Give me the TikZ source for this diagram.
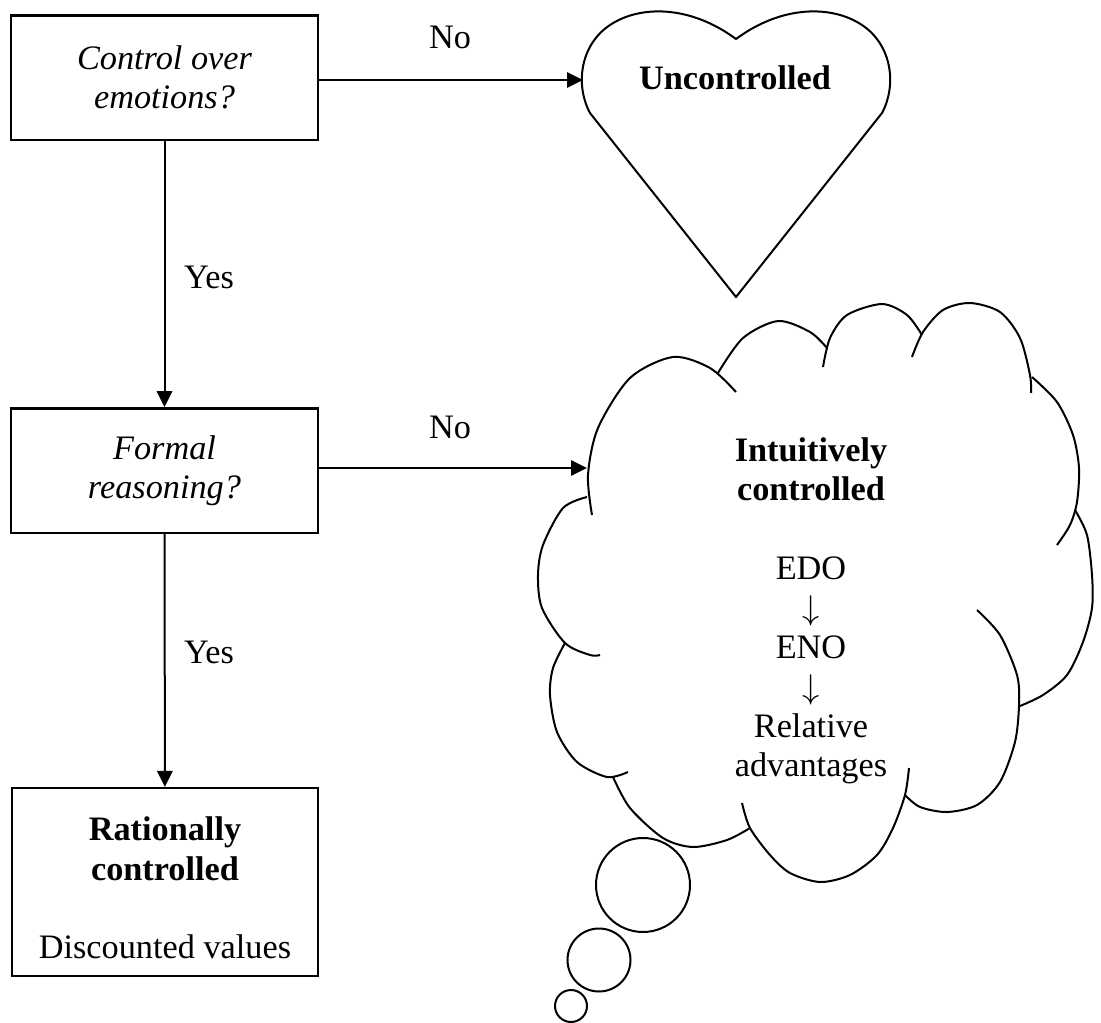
\documentclass[tikz,border=0pt]{standalone}
\usepackage{fontspec}
\setmainfont{Liberation Serif}
\usetikzlibrary{arrows.meta}

\begin{document}
\begin{tikzpicture}[x=0.35pt, y=-0.35pt,
  question/.style={draw, line width=0.8pt, minimum width=107.5pt, minimum height=43.5pt, align=center, inner sep=0pt, font=\fontsize{12}{13.8}\selectfont\itshape},
  result/.style={draw, line width=0.8pt, minimum width=107.3pt, minimum height=65.8pt, inner sep=0pt},
  txt/.style={align=center, inner sep=0pt, font=\fontsize{12}{13.8}\selectfont},
  bold/.style={txt, font=\fontsize{12}{13.8}\selectfont\bfseries},
  edge/.style={line width=0.7pt},
  arr/.style={line width=0.7pt, -{Triangle[length=5.6pt, width=5.4pt]}}]
\useasboundingbox (0,0) rectangle (1101,1023);
% decision boxes
\node[question] (emo) at (164.5,77.5) {Control over\\emotions?};
\node[question] (form) at (164.5,470.5) {Formal\\reasoning?};
\node[result] (rat) at (165,882) {};
\node[txt] (ratlbl) at (165,888) {\textbf{Rationally}\\\textbf{controlled}\\[13.8pt]Discounted values};
% heart
\draw[edge, line join=round] (736,297) -- (590,113) .. controls (575,85) and (580,45) .. (610,25)
  .. controls (640,5) and (690,5) .. (736,39) .. controls (782,5) and (832,5) .. (862,25)
  .. controls (892,45) and (897,85) .. (882,113) -- cycle;
\coordinate (heart) at (583,80);
\node[bold] (unc) at (735,78) {Uncontrolled};
% cloud lobes
\draw[edge] plot[smooth] coordinates {(592,515) (588,475) (598,428) (630,378) (673,357) (710,368) (736,392)};
\draw[edge] plot[smooth] coordinates {(718,373) (743,338) (778,321) (810,332) (827,348)};
\draw[edge] plot[smooth] coordinates {(823,367) (830,338) (847,315) (882,304) (907,315) (922,335)};
\draw[edge] plot[smooth] coordinates {(912,357) (923,332) (943,310) (970,303) (1000,312) (1020,338) (1030,375) (1031,393)};
\draw[edge] plot[smooth] coordinates {(1032,377) (1057,402) (1073,435) (1079,468) (1077,502) (1070,525) (1057,545)};
\draw[edge] plot[smooth] coordinates {(1075,510) (1087,535) (1092,575) (1092,608) (1083,642) (1067,675) (1043,695) (1020,706)};
\draw[edge] plot[smooth] coordinates {(977,610) (1000,635) (1017,675) (1019,705) (1015,742) (1000,782) (977,805) (947,812) (920,807) (905,795)};
\draw[edge] plot[smooth] coordinates {(909,768) (905,795) (893,828) (877,855) (850,875) (820,882) (790,873) (770,855) (750,828) (742,803)};
\draw[edge] plot[smooth] coordinates {(613,777) (630,808) (663,838) (693,847) (727,840) (750,828)};
\draw[edge] plot[smooth] coordinates {(565,643) (553,668) (550,695) (557,732) (577,762) (607,777) (628,772)};
\draw[edge] plot[smooth] coordinates {(587,497) (563,508) (543,545) (538,575) (542,608) (565,643) (590,655) (600,655)};
\coordinate (cloud) at (587,468);
\node[txt] (intu) at (811,611) {\textbf{Intuitively}\\\textbf{controlled}\\[13.8pt]EDO\\$\downarrow$\\ENO\\$\downarrow$\\Relative\\advantages};
% thought bubbles
\foreach \cx/\cy/\r in {643/885/47, 599/960/31.5, 571/1006/16}
  \draw[edge] (\cx,\cy) circle[radius=\r];
% connectors
\draw[arr] (emo.east |- heart) -- (heart);
\node[txt] (no1) at (450,37) {No};
\draw[arr] (emo) -- (form);
\node[txt] (yes1) at (209,277) {Yes};
\draw[arr] (form.east |- cloud) -- (cloud);
\node[txt] (no2) at (450,427) {No};
\draw[arr] (form) -- (rat);
\node[txt] (yes2) at (209,652) {Yes};
\end{tikzpicture}
\end{document}
